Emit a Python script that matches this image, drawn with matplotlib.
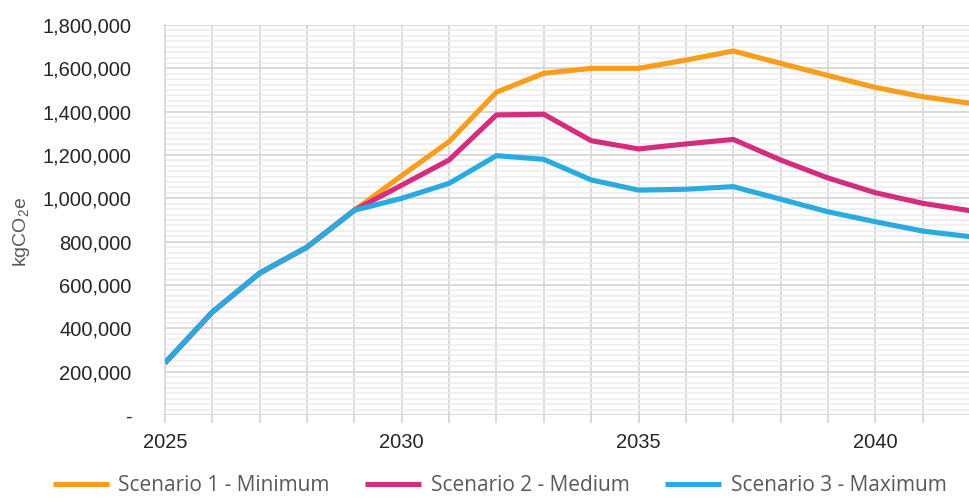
import numpy as np
import matplotlib.pyplot as plt
from matplotlib.ticker import MultipleLocator, FuncFormatter

# years on the x axis
years = list(range(2025, 2043))

# emissions per scenario, kgCO2e
scenario_min = [240000, 475000, 655000, 775000, 945000, 1105000, 1262000, 1490000, 1577000,
                1600000, 1600000, 1638000, 1680000, 1623000, 1567000, 1512000, 1469000, 1439000]
scenario_med = [240000, 475000, 655000, 775000, 945000, 1061000, 1177000, 1385000, 1388000,
                1266000, 1228000, 1251000, 1272000, 1177000, 1094000, 1026000, 977000, 943000]
scenario_max = [240000, 475000, 655000, 775000, 945000, 1000000, 1069000, 1197000, 1180000,
                1085000, 1038000, 1042000, 1054000, 996000, 938000, 892000, 849000, 823000]

labels = ["Scenario 1 - Minimum", "Scenario 2 - Medium", "Scenario 3 - Maximum"]
colours = ["#F99D1C", "#D42D7D", "#29ABE2"]

plt.rcParams['font.family'] = ['Liberation Sans', 'DejaVu Sans']

fig = plt.figure(figsize=(9.7, 5), dpi=100)
ax = fig.add_axes([165 / 970, 85 / 500, 805 / 970, 390 / 500])

for vals, lab, col in zip([scenario_min, scenario_med, scenario_max], labels, colours):
    ax.plot(years, vals, color=col, lw=3.7, label=lab, solid_joinstyle='round',
            solid_capstyle='butt', zorder=3)

ax.set_xlim(2025, 2042)
ax.set_ylim(0, 1800000)

ax.yaxis.set_major_locator(MultipleLocator(200000))
ax.yaxis.set_minor_locator(MultipleLocator(25000))
ax.xaxis.set_major_locator(MultipleLocator(1))
ax.xaxis.set_major_formatter(FuncFormatter(lambda v, p: str(int(v)) if int(v) % 5 == 0 else ""))
ax.yaxis.set_major_formatter(FuncFormatter(lambda v, p: "-" if v == 0 else f"{int(v):,}"))

ax.grid(which='major', color='#d9d9d9', lw=1.4, zorder=1)
ax.grid(which='minor', axis='y', color='#ededed', lw=1.2, zorder=0)
ax.set_axisbelow(True)

for side in ['top', 'right', 'bottom']:
    ax.spines[side].set_visible(False)
ax.spines['left'].set_color('#d9d9d9')
ax.spines['left'].set_linewidth(1.4)

ax.tick_params(axis='x', length=6, width=1.4, color='#d9d9d9', labelsize=14.5,
               labelcolor='#262626', pad=7)
ax.tick_params(axis='y', which='both', length=0, labelsize=14.5, labelcolor='#262626', pad=24)

ax.set_ylabel(r"kgCO$_\mathregular{2}$e", fontsize=14, color='#595959')
ax.yaxis.set_label_coords(-0.165, 0.47)

fig.legend(loc='lower center', bbox_to_anchor=(0.515, -0.03), ncol=3, frameon=False,
           prop={'family': 'Open Sans', 'size': 15}, labelcolor='#595959',
           handlelength=2.7, handletextpad=0.45, columnspacing=1.7)

fig.savefig("out.png", dpi=100)
